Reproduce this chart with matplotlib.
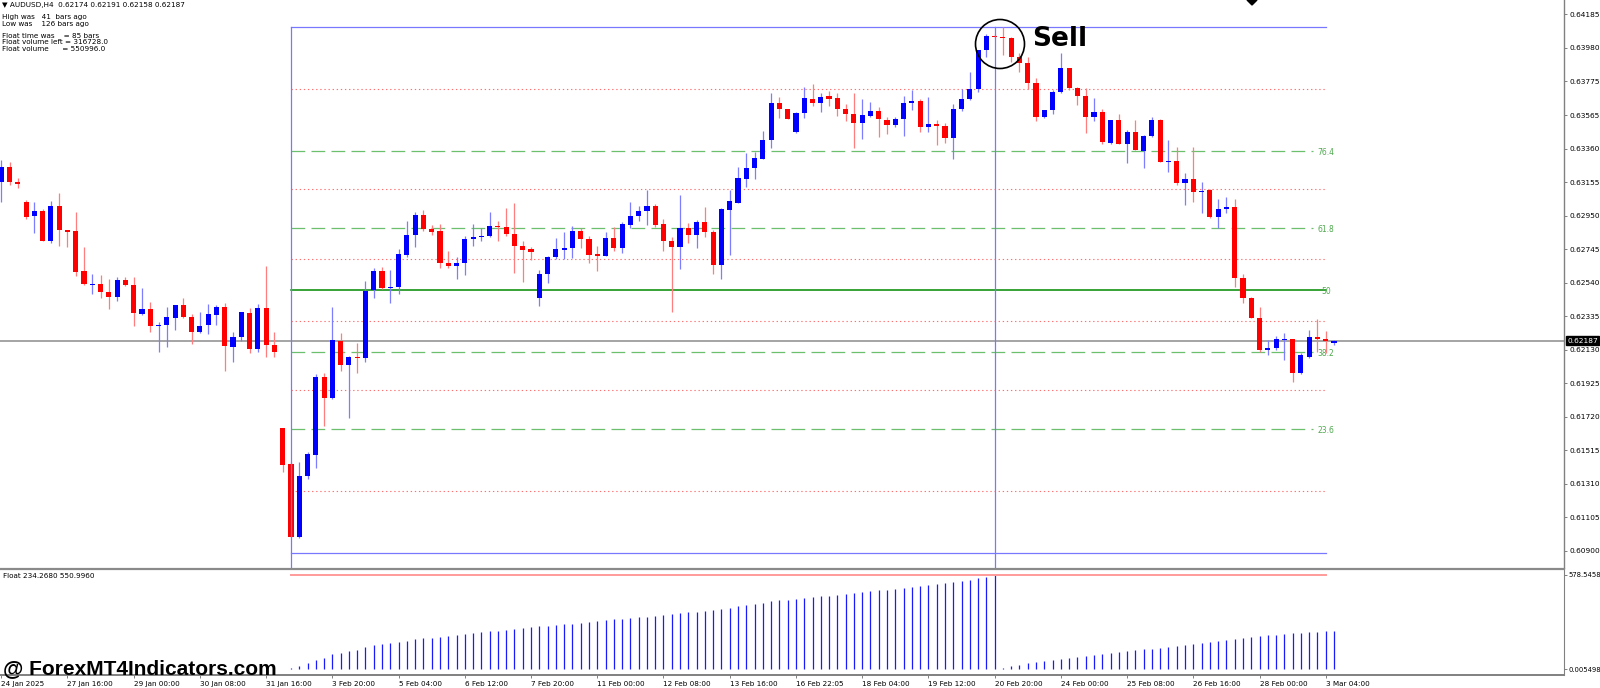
import numpy as np
import matplotlib.pyplot as plt
from matplotlib.patches import Ellipse, Polygon
from matplotlib.lines import Line2D

# AUDUSD H4, 162 bars (oldest first)
opens = [0.63157, 0.63249, 0.63157, 0.63035, 0.62949, 0.62980, 0.62796, 0.63010, 0.62863, 0.62857,
         0.62612, 0.62527, 0.62533, 0.62484, 0.62453, 0.62557, 0.62527, 0.62349, 0.62380, 0.62276,
         0.62282, 0.62325, 0.62404, 0.62331, 0.62239, 0.62282, 0.62343, 0.62392, 0.62147, 0.62209,
         0.62355, 0.62135, 0.62386, 0.62160, 0.61652, 0.61431, 0.60985, 0.61358, 0.61487, 0.61964,
         0.61835, 0.62184, 0.62037, 0.62086, 0.62080, 0.62496, 0.62612, 0.62508, 0.62515, 0.62710,
         0.62833, 0.62955, 0.62870, 0.62857, 0.62661, 0.62643, 0.62661, 0.62808, 0.62821, 0.62827,
         0.62888, 0.62882, 0.62839, 0.62765, 0.62747, 0.62447, 0.62594, 0.62698, 0.62741, 0.62753,
         0.62857, 0.62808, 0.62716, 0.62704, 0.62814, 0.62753, 0.62894, 0.62949, 0.62980, 0.63010,
         0.62900, 0.62796, 0.62759, 0.62876, 0.62833, 0.62912, 0.62851, 0.62649, 0.62986, 0.63029,
         0.63176, 0.63243, 0.63298, 0.63414, 0.63641, 0.63604, 0.63463, 0.63580, 0.63665, 0.63641,
         0.63683, 0.63671, 0.63604, 0.63573, 0.63518, 0.63561, 0.63592, 0.63537, 0.63506, 0.63543,
         0.63641, 0.63653, 0.63494, 0.63512, 0.63500, 0.63426, 0.63604, 0.63665, 0.63726, 0.63965,
         0.64051, 0.64045, 0.64038, 0.63922, 0.63885, 0.63763, 0.63555, 0.63598, 0.63708, 0.63855,
         0.63732, 0.63683, 0.63555, 0.63586, 0.63396, 0.63537, 0.63390, 0.63463, 0.63347, 0.63439,
         0.63537, 0.63280, 0.63286, 0.63151, 0.63176, 0.63096, 0.63108, 0.62943, 0.62992, 0.63004,
         0.62570, 0.62447, 0.62325, 0.62129, 0.62141, 0.62190, 0.62196, 0.61988, 0.62086, 0.62209,
         0.62196, 0.62174]
highs = [0.63292, 0.63280, 0.63182, 0.63047, 0.63035, 0.62992, 0.63041, 0.63090, 0.62863, 0.62974,
         0.62759, 0.62594, 0.62588, 0.62564, 0.62576, 0.62576, 0.62576, 0.62508, 0.62423, 0.62300,
         0.62392, 0.62404, 0.62447, 0.62349, 0.62362, 0.62411, 0.62404, 0.62417, 0.62239, 0.62362,
         0.62386, 0.62411, 0.62643, 0.62239, 0.61652, 0.61444, 0.61444, 0.61505, 0.61982, 0.61988,
         0.62392, 0.62233, 0.62092, 0.62172, 0.62551, 0.62631, 0.62637, 0.62619, 0.62747, 0.62918,
         0.62974, 0.62986, 0.62894, 0.62900, 0.62735, 0.62698, 0.62827, 0.62900, 0.62876, 0.62974,
         0.62918, 0.62998, 0.63029, 0.62796, 0.62759, 0.62619, 0.62704, 0.62814, 0.62851, 0.62888,
         0.62876, 0.62827, 0.62765, 0.62851, 0.62882, 0.62912, 0.63035, 0.63010, 0.63108, 0.63023,
         0.62931, 0.62821, 0.63078, 0.62906, 0.62925, 0.63004, 0.62863, 0.62998, 0.63108, 0.63249,
         0.63335, 0.63341, 0.63469, 0.63702, 0.63677, 0.63604, 0.63586, 0.63739, 0.63757, 0.63702,
         0.63714, 0.63702, 0.63635, 0.63702, 0.63665, 0.63647, 0.63616, 0.63555, 0.63555, 0.63683,
         0.63720, 0.63665, 0.63677, 0.63537, 0.63518, 0.63635, 0.63726, 0.63830, 0.63965, 0.64063,
         0.64063, 0.64106, 0.64045, 0.63947, 0.63922, 0.63794, 0.63598, 0.63720, 0.63947, 0.63855,
         0.63739, 0.63732, 0.63671, 0.63604, 0.63537, 0.63573, 0.63475, 0.63537, 0.63445, 0.63555,
         0.63543, 0.63414, 0.63371, 0.63212, 0.63371, 0.63157, 0.63114, 0.63053, 0.63065, 0.63053,
         0.62594, 0.62453, 0.62392, 0.62190, 0.62215, 0.62233, 0.62196, 0.62111, 0.62251, 0.62319,
         0.62245, 0.62191]
lows = [0.63035, 0.63139, 0.63120, 0.62931, 0.62845, 0.62796, 0.62784, 0.62765, 0.62759, 0.62582,
        0.62527, 0.62472, 0.62447, 0.62380, 0.62429, 0.62521, 0.62276, 0.62343, 0.62239, 0.62117,
        0.62147, 0.62251, 0.62325, 0.62166, 0.62233, 0.62227, 0.62282, 0.62001, 0.62056, 0.62184,
        0.62111, 0.62117, 0.62086, 0.62086, 0.61382, 0.60985, 0.60978, 0.61340, 0.61407, 0.61664,
        0.61829, 0.62001, 0.61713, 0.61988, 0.62056, 0.62447, 0.62502, 0.62417, 0.62472, 0.62698,
        0.62759, 0.62857, 0.62833, 0.62631, 0.62631, 0.62564, 0.62588, 0.62765, 0.62796, 0.62821,
        0.62796, 0.62827, 0.62600, 0.62545, 0.62680, 0.62398, 0.62539, 0.62686, 0.62686, 0.62692,
        0.62753, 0.62661, 0.62612, 0.62704, 0.62735, 0.62723, 0.62876, 0.62918, 0.62894, 0.62882,
        0.62735, 0.62362, 0.62625, 0.62784, 0.62753, 0.62821, 0.62594, 0.62564, 0.62710, 0.63029,
        0.63127, 0.63176, 0.63298, 0.63365, 0.63549, 0.63543, 0.63457, 0.63549, 0.63622, 0.63586,
        0.63622, 0.63561, 0.63530, 0.63365, 0.63420, 0.63555, 0.63433, 0.63451, 0.63494, 0.63439,
        0.63598, 0.63463, 0.63463, 0.63384, 0.63396, 0.63298, 0.63592, 0.63659, 0.63708, 0.63922,
        0.64038, 0.63934, 0.63892, 0.63830, 0.63726, 0.63530, 0.63549, 0.63573, 0.63702, 0.63720,
        0.63628, 0.63457, 0.63530, 0.63390, 0.63390, 0.63390, 0.63273, 0.63353, 0.63243, 0.63433,
        0.63280, 0.63218, 0.63139, 0.63016, 0.63035, 0.62967, 0.62937, 0.62876, 0.62967, 0.62515,
        0.62417, 0.62325, 0.62117, 0.62098, 0.62129, 0.62068, 0.61933, 0.61982, 0.62080, 0.62117,
        0.62111, 0.62158]
closes = [0.63249, 0.63157, 0.63145, 0.62943, 0.62980, 0.62796, 0.63010, 0.62863, 0.62851, 0.62606,
          0.62533, 0.62533, 0.62484, 0.62453, 0.62557, 0.62527, 0.62355, 0.62380, 0.62276, 0.62282,
          0.62331, 0.62404, 0.62331, 0.62239, 0.62276, 0.62349, 0.62392, 0.62153, 0.62209, 0.62362,
          0.62135, 0.62386, 0.62160, 0.62117, 0.61425, 0.60985, 0.61358, 0.61493, 0.61964, 0.61835,
          0.62190, 0.62037, 0.62086, 0.62080, 0.62490, 0.62612, 0.62508, 0.62515, 0.62716, 0.62833,
          0.62955, 0.62870, 0.62851, 0.62661, 0.62643, 0.62661, 0.62808, 0.62821, 0.62827, 0.62888,
          0.62882, 0.62839, 0.62765, 0.62741, 0.62729, 0.62594, 0.62698, 0.62747, 0.62753, 0.62857,
          0.62808, 0.62710, 0.62704, 0.62814, 0.62753, 0.62900, 0.62949, 0.62980, 0.63010, 0.62894,
          0.62796, 0.62759, 0.62876, 0.62833, 0.62912, 0.62851, 0.62649, 0.62992, 0.63041, 0.63182,
          0.63243, 0.63304, 0.63414, 0.63641, 0.63604, 0.63543, 0.63580, 0.63671, 0.63641, 0.63677,
          0.63665, 0.63604, 0.63573, 0.63518, 0.63567, 0.63592, 0.63543, 0.63506, 0.63543, 0.63641,
          0.63653, 0.63494, 0.63512, 0.63500, 0.63426, 0.63604, 0.63665, 0.63726, 0.63965, 0.64051,
          0.64045, 0.64038, 0.63922, 0.63885, 0.63763, 0.63555, 0.63598, 0.63708, 0.63855, 0.63732,
          0.63683, 0.63555, 0.63586, 0.63402, 0.63537, 0.63390, 0.63463, 0.63353, 0.63439, 0.63537,
          0.63280, 0.63286, 0.63151, 0.63176, 0.63096, 0.63102, 0.62943, 0.62992, 0.63004, 0.62570,
          0.62447, 0.62325, 0.62129, 0.62141, 0.62196, 0.62196, 0.61988, 0.62098, 0.62209, 0.62196,
          0.62184, 0.62187]

# x-axis labels, every 8 bars
date_labels = ["24 Jan 2025", "27 Jan 16:00", "29 Jan 00:00", "30 Jan 08:00", "31 Jan 16:00",
               "3 Feb 20:00", "5 Feb 04:00", "6 Feb 12:00", "7 Feb 20:00", "11 Feb 00:00",
               "12 Feb 08:00", "13 Feb 16:00", "16 Feb 22:05", "18 Feb 04:00", "19 Feb 12:00",
               "20 Feb 20:00", "24 Feb 00:00", "25 Feb 08:00", "26 Feb 16:00", "28 Feb 00:00",
               "3 Mar 04:00"]
price_ticks = [0.64185, 0.63980, 0.63775, 0.63565, 0.63360, 0.63155, 0.62950, 0.62745, 0.62540,
               0.62335, 0.62130, 0.61925, 0.61720, 0.61515, 0.61310, 0.61105, 0.60900]

# fibo swing
fib_high, fib_low = 0.64106, 0.60887
low_bar, high_bar, fib_end = 35, 120, 160
fib_levels = [23.6, 38.2, 61.8, 76.4]
fib_mid = [11.8, 30.9, 44.1, 55.9, 69.1, 88.2]
bid = 0.62187

# Float indicator histogram
float_seg1 = [5, 20, 35, 55, 70, 90, 100, 110, 118, 135,
              145, 152, 158, 168, 175, 182, 188, 193, 200, 205,
              210, 215, 221, 226, 231, 236, 241, 247, 252, 258,
              262, 266, 271, 275, 280, 285, 290, 295, 300, 305,
              310, 314, 318, 323, 328, 333, 338, 343, 348, 352,
              357, 362, 370, 378, 386, 394, 400, 407, 416, 422,
              427, 432, 438, 443, 447, 452, 457, 462, 468, 474,
              479, 484, 489, 494, 500, 505, 511, 517, 522, 527,
              534, 541, 549, 558, 567, 578.5458]
float_seg2 = [8, 18, 26, 34, 44, 50, 56, 64, 70, 76,
              83, 88, 94, 99, 104, 110, 116, 121, 126, 131,
              137, 143, 148, 154, 159, 165, 171, 176, 184, 191,
              197, 203, 207, 211, 215, 219, 223, 226, 229, 232,
              234.268]
float_max = 578.5458

W, H = 1600, 688
def px_rect(x0, y0, x1, y1):
    return [x0 / W, 1 - y1 / H, (x1 - x0) / W, (y1 - y0) / H]

fig = plt.figure(figsize=(16, 6.88), dpi=100)
fig.patch.set_facecolor("white")
ax = fig.add_axes(px_rect(0, 0, 1564, 568))
ax2 = fig.add_axes(px_rect(0, 570, 1564, 675))

o = np.array(opens); h = np.array(highs); l = np.array(lows); c = np.array(closes)
x = np.arange(len(o))
up = c > o
body_col = np.where(up, "#0000ff", "#ff0000")
wick_col = np.where(up, "#7d7dff", "#ff7d7d")

xlim = (-0.15, 188.78)

# fibo lines (drawn under the candles)
rng = fib_high - fib_low
for m in fib_mid:
    p = fib_low + rng * m / 100
    ax.plot([low_bar, fib_end], [p, p], color="#ff6f6f", lw=0.8, ls=(0, (1.2, 2.5)), zorder=1)
for lv in fib_levels:
    p = fib_low + rng * lv / 100
    ax.plot([low_bar, fib_end - 1.5], [p, p], color="#6cbf6c", lw=0.9, ls=(0, (11, 5)), zorder=1)
    ax.text(fib_end, p - 0.00009, f"{lv:.1f}", color="#4fa94f", fontsize=5.5, ha="center", va="center")
p50 = fib_low + rng * 0.5
ax.plot([low_bar, fib_end], [p50, p50], color="#008a00", lw=1.1, zorder=1)
ax.text(fib_end, p50 - 0.00009, "50", color="#4fa94f", fontsize=5.5, ha="center", va="center")
for p in (fib_high, fib_low):
    ax.plot([low_bar, fib_end], [p, p], color="#7878ff", lw=0.9, zorder=1)
ax.axhline(bid, color="#8c8c8c", lw=1.1, zorder=1)

# candles
ax.vlines(x, l, h, colors=wick_col, lw=0.9, zorder=2)
body_lo = np.minimum(o, c)
body_h = np.maximum(np.abs(c - o), 0.00007)
ax.bar(x, body_h, bottom=body_lo, width=0.62, color=body_col, lw=0, zorder=3)

ylim = (0.60795, 0.64271)
for b in (low_bar, high_bar):
    ax.plot([b, b], [ylim[0], fib_high], color="#7878ff", lw=0.9, zorder=4)

ax.set_xlim(*xlim)
ax.set_ylim(*ylim)
for s in ("left", "top", "bottom"):
    ax.spines[s].set_visible(False)
ax.spines["right"].set_color("#808080")
ax.spines["right"].set_linewidth(1.0)
ax.set_xticks([])
ax.yaxis.tick_right()
ax.set_yticks(price_ticks)
ax.set_yticklabels([f"{p:.5f}" for p in price_ticks])
ax.tick_params(axis="y", length=2.5, width=0.7, color="#808080", labelsize=5.3, pad=1.5)
ax.annotate(f"{bid:.5f}", xy=(1, bid), xycoords=("axes fraction", "data"), xytext=(2.2, 0),
            textcoords="offset points", va="center", ha="left", fontsize=5.3, color="white",
            bbox=dict(boxstyle="square,pad=0.2", fc="black", ec="black"))

# sub window: Float
ax2.vlines(np.arange(low_bar, low_bar + len(float_seg1)), 0, float_seg1, color="#1a1aff", lw=0.9)
ax2.vlines(np.arange(high_bar + 1, high_bar + 1 + len(float_seg2)), 0, float_seg2, color="#1a1aff", lw=0.9)
ax2.plot([low_bar, fib_end], [float_max, float_max], color="#ff9a9a", lw=1.4)
ax2.set_xlim(*xlim)
ax2.set_ylim(-36.9, 609.3)
for s in ("left", "top"):
    ax2.spines[s].set_visible(False)
ax2.spines["right"].set_color("#808080")
ax2.spines["bottom"].set_color("#808080")
ax2.spines["bottom"].set_linewidth(1.4)
ax2.yaxis.tick_right()
ax2.set_yticks([0, float_max])
ax2.set_yticklabels(["0.005498", "578.5458"])
ax2.tick_params(axis="y", length=2.0, width=0.7, color="#808080", labelsize=4.9, pad=1.0)
ax2.set_xticks(np.arange(0, 8 * len(date_labels), 8))
ax2.set_xticklabels(date_labels)
for t in ax2.get_xticklabels():
    t.set_ha("left")
ax2.tick_params(axis="x", length=2.5, width=0.7, color="#808080", labelsize=5.2, pad=1.5)

# separator between windows
fig.add_artist(Line2D([0, 1564 / W], [1 - 569 / H] * 2, color="#8a8a8a", lw=1.6))

# header texts
fig.text(2 / W, 1 - 5 / H, "\u25bc AUDUSD,H4  0.62174 0.62191 0.62158 0.62187", fontsize=5.2, va="center")
fig.text(2 / W, 1 - 17 / H, "High was   41  bars ago", fontsize=5.2, va="center")
fig.text(2 / W, 1 - 24 / H, "Low was    126 bars ago", fontsize=5.2, va="center")
fig.text(2 / W, 1 - 36 / H, "Float time was    = 85 bars", fontsize=5.2, va="center")
fig.text(2 / W, 1 - 42 / H, "Float volume left = 316728.0", fontsize=5.2, va="center")
fig.text(2 / W, 1 - 49 / H, "Float volume      = 550996.0", fontsize=5.2, va="center")
fig.text(3 / W, 1 - 576 / H, "Float 234.2680 550.9960", fontsize=5.2, va="center")

# annotations
fig.text(1032 / W, 1 - 39 / H, "Sell", fontsize=19, fontweight="bold", va="center", ha="left")
fig.add_artist(Ellipse((1000 / W, 1 - 44 / H), 49 / W, 49 / H, transform=fig.transFigure,
                       fill=False, ec="black", lw=1.2))
fig.add_artist(Polygon([[1247 / W, 1], [1257 / W, 1], [1252 / W, 1 - 5 / H]], closed=True,
                       transform=fig.transFigure, fc="black", ec="black"))
fig.text(3 / W, 1 - 674.5 / H, "@ ForexMT4Indicators.com", fontsize=15, fontweight="bold",
         family="Liberation Sans", va="baseline", ha="left")

fig.savefig("out.png", dpi=100)
